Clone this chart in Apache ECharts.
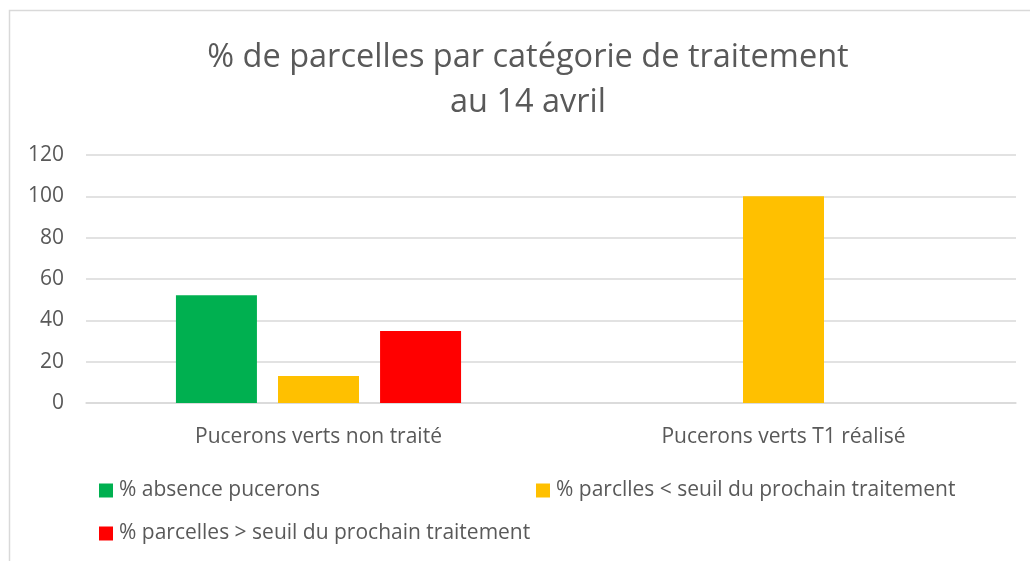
<!DOCTYPE html>
<html>
<head>
<meta charset="utf-8">
<script src="https://cdn.jsdelivr.net/npm/echarts@6/dist/echarts.min.js"></script>
<style>
  html, body { margin: 0; padding: 0; background: #fff; }
  #chart { width: 1030px; height: 561px; }
</style>
</head>
<body>
<div id="chart"></div>
<script>
var categories = ['Pucerons verts non traité', 'Pucerons verts T1 réalisé'];
var seriesNames = [
  '% absence pucerons',
  '% parclles < seuil du prochain traitement',
  '% parcelles > seuil du prochain traitement'
];
var absence = [52.17, 0];
var sousSeuil = [13.04, 100];
var surSeuil = [34.78, 0];
var colors = ['#00B050', '#FFC000', '#FF0000'];

var font = '"Open Sans", sans-serif';
var myChart = echarts.init(document.getElementById('chart'));

// une légende par entrée pour reproduire la disposition
function legendAt(name, left, top) {
  return {
    data: [name],
    left: left,
    top: top,
    padding: 0,
    icon: 'rect',
    itemWidth: 14,
    itemHeight: 14,
    itemGap: 0,
    textStyle: { color: '#595959', fontSize: 21, fontFamily: font, padding: [0, 0, 0, 1] }
  };
}

myChart.setOption({
  animation: false,
  title: {
    text: '% de parcelles par catégorie de traitement\nau 14 avril',
    left: 523,
    top: 30,
    textAlign: 'center',
    textStyle: {
      color: '#595959',
      fontSize: 32.5,
      fontWeight: 'normal',
      fontFamily: font,
      lineHeight: 45
    }
  },
  graphic: [{
    type: 'rect',
    shape: { x: 9.5, y: 10.5, width: 1100, height: 700 },
    style: { fill: 'none', stroke: '#d9d9d9', lineWidth: 1.5 },
    silent: true
  }],
  legend: [
    legendAt(seriesNames[0], 99, 480),
    legendAt(seriesNames[1], 536, 480),
    legendAt(seriesNames[2], 99, 523)
  ],
  grid: { left: 86, right: 14, top: 155, bottom: 158 },
  xAxis: {
    type: 'category',
    data: categories,
    axisTick: { show: false },
    axisLine: { lineStyle: { color: '#d9d9d9', width: 1.5 } },
    axisLabel: { color: '#595959', fontSize: 21, fontFamily: font, margin: 24 }
  },
  yAxis: {
    type: 'value',
    min: 0,
    max: 120,
    interval: 20,
    axisLine: { show: false },
    axisTick: { show: false },
    splitLine: { lineStyle: { color: '#d9d9d9', width: 1.5 } },
    axisLabel: { color: '#595959', fontSize: 21, fontFamily: font, margin: 22 }
  },
  series: [
    { name: seriesNames[0], type: 'bar', data: absence, barWidth: 81, barGap: '26%', itemStyle: { color: colors[0] } },
    { name: seriesNames[1], type: 'bar', data: sousSeuil, barWidth: 81, barGap: '26%', itemStyle: { color: colors[1] } },
    { name: seriesNames[2], type: 'bar', data: surSeuil, barWidth: 81, barGap: '26%', itemStyle: { color: colors[2] } }
  ]
});
</script>
</body>
</html>
